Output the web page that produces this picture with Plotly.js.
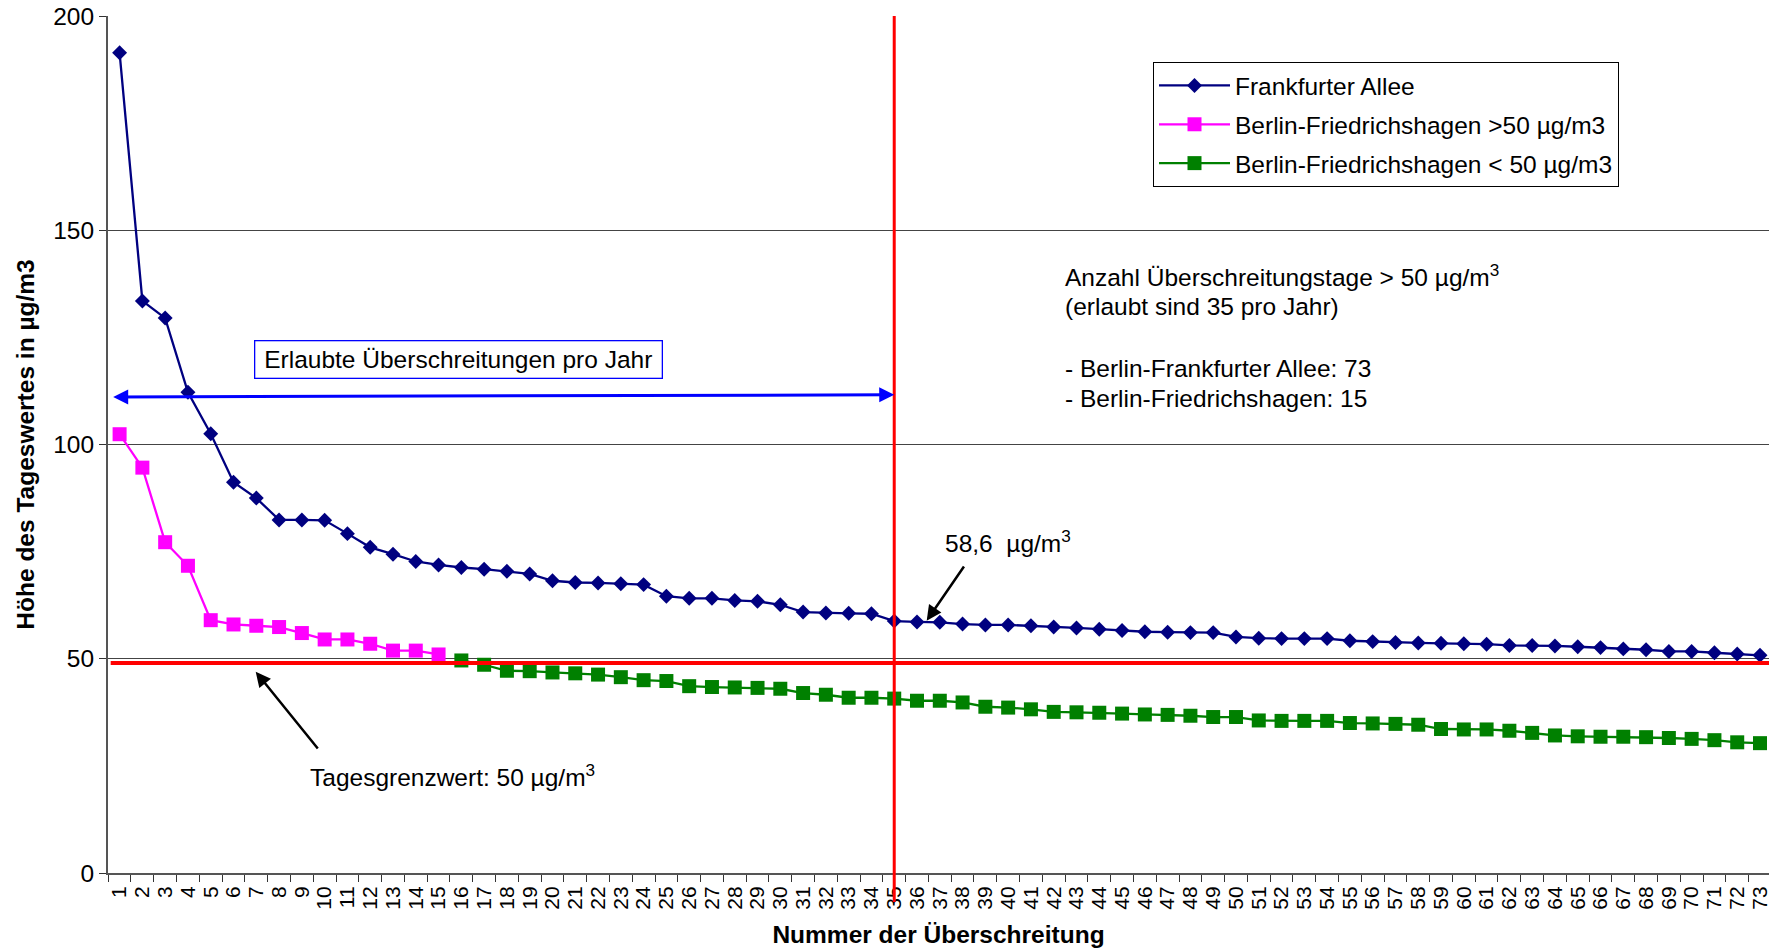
<!DOCTYPE html>
<html>
<head>
<meta charset="utf-8">
<script src="https://cdn.plot.ly/plotly-3.0.1.min.js"></script>
<style>
html,body{margin:0;padding:0;background:#fff;}
#chart{width:1769px;height:950px;}
</style>
</head>
<body>
<div id="chart"></div>
<script>
// ---- data ----
const categories = [1,2,3,4,5,6,7,8,9,10,11,12,13,14,15,16,17,18,19,20,
  21,22,23,24,25,26,27,28,29,30,31,32,33,34,35,36,37,38,39,40,
  41,42,43,44,45,46,47,48,49,50,51,52,53,54,55,56,57,58,59,60,
  61,62,63,64,65,66,67,68,69,70,71,72,73];

const frankfurterAllee = [191.4,133.5,129.5,112.2,102.5,91.2,87.5,82.4,82.4,82.3,
  79.2,76.0,74.4,72.7,71.9,71.3,70.9,70.4,69.8,68.2,
  67.8,67.7,67.5,67.3,64.6,64.1,64.1,63.6,63.4,62.6,
  60.9,60.7,60.6,60.5,58.8,58.6,58.5,58.1,57.9,57.9,
  57.7,57.4,57.2,56.9,56.6,56.3,56.2,56.1,56.1,55.1,
  54.8,54.7,54.7,54.7,54.2,54.0,53.8,53.7,53.6,53.5,
  53.4,53.1,53.1,53.0,52.8,52.6,52.3,52.1,51.7,51.7,
  51.4,51.1,50.8];

const friedrichshagenAboveCats = [1,2,3,4,5,6,7,8,9,10,11,12,13,14,15];
const friedrichshagenAbove = [102.4,94.6,77.2,71.7,59.0,58.0,57.7,57.4,56.0,54.5,
  54.5,53.5,51.9,51.9,51.0];

const friedrichshagenBelowCats = [16,17,18,19,20,21,22,23,24,25,26,27,28,29,30,
  31,32,33,34,35,36,37,38,39,40,41,42,43,44,45,46,47,48,49,50,
  51,52,53,54,55,56,57,58,59,60,61,62,63,64,65,66,67,68,69,70,71,72,73];
const friedrichshagenBelow = [49.6,48.6,47.2,47.1,46.8,46.6,46.3,45.7,45.0,44.8,
  43.6,43.4,43.3,43.2,43.0,42.0,41.6,40.9,40.9,40.7,
  40.2,40.2,39.8,38.8,38.6,38.2,37.6,37.5,37.4,37.2,
  37.0,36.9,36.7,36.4,36.4,35.6,35.5,35.5,35.5,35.0,
  34.9,34.8,34.6,33.6,33.5,33.5,33.2,32.7,32.1,31.9,
  31.8,31.8,31.7,31.5,31.3,31.0,30.5,30.3];

const seriesNames = ["Frankfurter Allee", "Berlin-Friedrichshagen >50 µg/m3", "Berlin-Friedrichshagen < 50 µg/m3"];
const allowedDays = 35;
const valueAt36 = "58,6";
const infoLines = [
  "Anzahl Überschreitungstage > 50 µg/m<sup>3</sup>",
  "(erlaubt sind 35 pro Jahr)",
  "- Berlin-Frankfurter Allee: 73",
  "- Berlin-Friedrichshagen: 15"
];

// ---- geometry helpers (pixels -> paper) ----
const L = 108, T = 16, W = 1661, H = 857;
const PX = x => (x - L) / W;
const PY = y => (T + H - y) / H;
const FONT = "Liberation Sans, Arial, sans-serif";
const FS = 24.5;
const xr = [-0.509, 72.395];
const pxToIdx = x => xr[0] + (x - L) / W * (xr[1] - xr[0]);

const cat = a => a.map(String);

const traces = [
  {x: cat(categories), y: frankfurterAllee, name: seriesNames[0], type: "scatter", mode: "lines+markers",
   legendgroup: "a",
   line: {color: "#000080", width: 2.3}, marker: {symbol: "diamond", size: 11.5, color: "#000080"}},
  {x: cat(friedrichshagenAboveCats), y: friedrichshagenAbove, name: seriesNames[1], type: "scatter", mode: "lines+markers",
   legendgroup: "b",
   line: {color: "#ff00ff", width: 2.3}, marker: {symbol: "square", size: 14, color: "#ff00ff"}},
  {x: cat(friedrichshagenBelowCats), y: friedrichshagenBelow, name: seriesNames[2], type: "scatter", mode: "lines+markers",
   legendgroup: "c",
   line: {color: "#008000", width: 2.3}, marker: {symbol: "square", size: 14, color: "#008000"}}
];

const idxAllowed = categories.indexOf(allowedDays);

const annFont = {family: FONT, size: FS, color: "#000"};
const annotations = [
  {xref: "paper", yref: "paper", x: PX(458.3), y: PY(359.5), xanchor: "center", yanchor: "middle",
   text: "Erlaubte Überschreitungen pro Jahr", showarrow: false, font: annFont,
   bordercolor: "#0000ff", borderwidth: 1.3, borderpad: 3, bgcolor: "#fff", width: 400, height: 30},
  {xref: "x", yref: "y", x: idxAllowed, y: 111.6, axref: "x", ayref: "y", ax: pxToIdx(111.7), ay: 111.1,
   text: "", showarrow: true, arrowside: "end+start", arrowhead: 2, startarrowhead: 2,
   arrowsize: 1, startarrowsize: 1, arrowwidth: 3, arrowcolor: "#0000ff", standoff: 0, startstandoff: 0},
  {xref: "paper", yref: "paper", x: PX(926.7), y: PY(620.7), ax: 38.3, ay: -55.7,
   text: "", showarrow: true, arrowhead: 2, arrowsize: 1.2, arrowwidth: 2.5, arrowcolor: "#000", standoff: 0},
  {xref: "paper", yref: "paper", x: PX(943), y: PY(541.7), xanchor: "left", yanchor: "middle",
   text: valueAt36 + "\u00a0 µg/m<sup>3</sup>", showarrow: false, font: annFont},
  {xref: "paper", yref: "paper", x: PX(255.7), y: PY(671.7), ax: 63.3, ay: 78.3,
   text: "", showarrow: true, arrowhead: 2, arrowsize: 1.2, arrowwidth: 2.5, arrowcolor: "#000", standoff: 0},
  {xref: "paper", yref: "paper", x: PX(308), y: PY(775), xanchor: "left", yanchor: "middle",
   text: "Tagesgrenzwert: 50 µg/m<sup>3</sup>", showarrow: false, font: annFont}
];
const infoY = [275, 306, 368, 398];
infoLines.forEach((t, i) => annotations.push({
  xref: "paper", yref: "paper", x: PX(1063), y: PY(infoY[i]), xanchor: "left", yanchor: "middle",
  text: t, showarrow: false, font: annFont}));

const shapes = [
  {type: "line", xref: "x", yref: "paper", x0: idxAllowed, x1: idxAllowed, y0: PY(902), y1: 1,
   line: {color: "#ff0000", width: 3}, layer: "above"},
  {type: "line", xref: "paper", yref: "y", x0: PX(110.7), x1: 1, y0: 49, y1: 49,
   line: {color: "#ff0000", width: 4}, layer: "above"}
];

const layout = {
  width: 1769, height: 950,
  margin: {l: L, r: 0, t: T, b: 950 - T - H, pad: 0},
  paper_bgcolor: "#fff", plot_bgcolor: "#fff",
  font: {family: FONT, size: FS, color: "#000"},
  showlegend: true,
  legend: {x: PX(1153), y: PY(62), xanchor: "left", yanchor: "top",
    bgcolor: "#fff", bordercolor: "#000", borderwidth: 1, itemwidth: 71,
    font: {family: FONT, size: FS, color: "#000"}, tracegroupgap: 4, traceorder: "grouped"},
  xaxis: {type: "category", range: xr, tickmode: "linear", tick0: 0, dtick: 1,
    tickson: "boundaries", ticks: "outside", ticklen: 7,
    tickcolor: "#333", tickwidth: 1, tickangle: -90, tickfont: {family: FONT, size: 21, color: "#000"},
    ticklabelstandoff: 3,
    showgrid: false, showline: true, linecolor: "#555", linewidth: 2, zeroline: false, automargin: false,
    title: {text: "<b>Nummer der Überschreitung</b>", font: {family: FONT, size: FS, color: "#000"}, standoff: 17}},
  yaxis: {range: [0, 200], dtick: 50, tick0: 0, ticks: "outside", ticklen: 7, tickcolor: "#333",
    tickfont: {family: FONT, size: FS, color: "#000"}, showgrid: true, gridcolor: "#444", gridwidth: 1,
    showline: true, linecolor: "#555", linewidth: 2, zeroline: false, automargin: false,
    title: {text: "<b>Höhe des Tageswertes in µg/m3</b>", font: {family: FONT, size: FS, color: "#000"}, standoff: 12}},
  shapes: shapes,
  annotations: annotations
};

Plotly.newPlot("chart", traces, layout, {displayModeBar: false, staticPlot: true});
</script>
</body>
</html>
